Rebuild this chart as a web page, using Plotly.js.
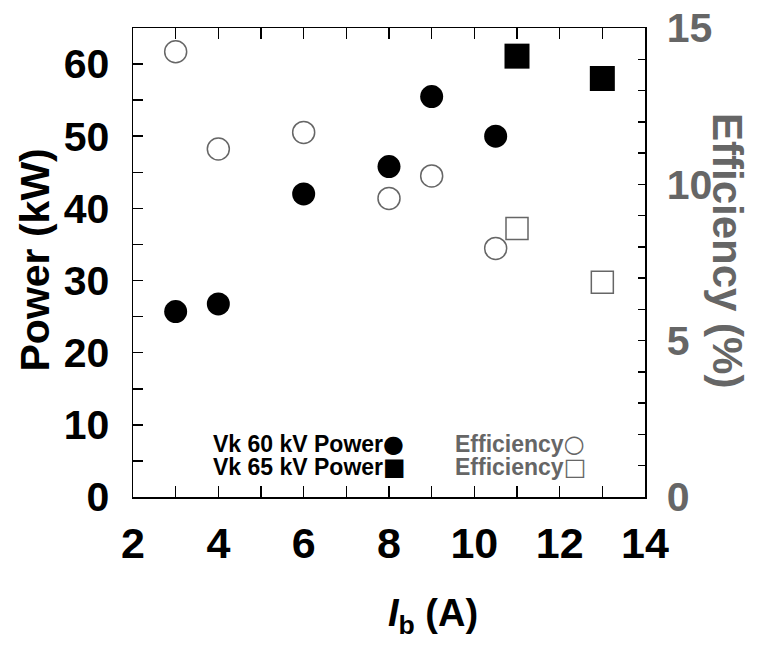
<!DOCTYPE html>
<html>
<head>
<meta charset="utf-8">
<script src="https://cdn.plot.ly/plotly-3.0.1.min.js"></script>
<style>html,body{margin:0;padding:0;background:#fff;}#chart{width:761px;height:645px;}</style>
</head>
<body>
<div id="chart"></div>
<script>
// Data
const current60 = [3, 4, 6, 8, 9, 10.5];
const power60 = [25.7, 26.75, 42.0, 45.8, 55.5, 50.0];
const eff60 = [14.24, 11.13, 11.66, 9.55, 10.27, 7.95];
const current65 = [11, 13];
const power65 = [61.1, 58.0];
const eff65 = [8.59, 6.87];

const legendLabels = ["Vk 60 kV Power", "Vk 65 kV Power", "Efficiency", "Efficiency"];
const legendSymbols = ["\u25CF", "\u25A0", "\u25CB", "\u25A1"];
const xTitle = "<i>I</i><sub>b</sub> (A)";
const yTitle = "Power (kW)";
const y2Title = "Efficiency (%)";

const GRAY = "#666666";
const FONT = "Liberation Sans, Arial, sans-serif";
const SYMFONT = "DejaVu Sans, sans-serif";

const traces = [
  {x: current60, y: eff60, yaxis: "y2", type: "scatter", mode: "markers",
   marker: {symbol: "circle-open", size: 22, color: GRAY, line: {width: 1.5, color: GRAY}}},
  {x: current65, y: eff65, yaxis: "y2", type: "scatter", mode: "markers",
   marker: {symbol: "square-open", size: 22, color: GRAY, line: {width: 1.5, color: GRAY}}},
  {x: current60, y: power60, type: "scatter", mode: "markers",
   marker: {symbol: "circle", size: 23, color: "#000", line: {width: 0}}},
  {x: current65, y: power65, type: "scatter", mode: "markers",
   marker: {symbol: "square", size: 25, color: "#000", line: {width: 0}}}
];

const W = 512, H = 469, L = 133, T = 28;
const px = v => (v - L) / W;
const py = v => (T + H - v) / H;

function legendText(i) {
  return legendLabels[i] + "<span style=\"font-family:" + SYMFONT + ";font-size:24px\">" + legendSymbols[i] + "</span>";
}

const layout = {
  width: 761, height: 645,
  margin: {l: L, r: 761 - L - W, t: T, b: 645 - T - H, pad: 0},
  paper_bgcolor: "#fff", plot_bgcolor: "#fff",
  showlegend: false,
  font: {family: FONT, color: "#000"},
  xaxis: {
    range: [2, 14], dtick: 2, tick0: 2, showgrid: false, zeroline: false,
    showline: true, linecolor: "#000", linewidth: 1.5, mirror: "allticks",
    ticks: "inside", ticklen: 11, tickwidth: 1.5, tickcolor: "#000",
    minor: {dtick: 1, ticks: "inside", ticklen: 6, tickwidth: 1.5, tickcolor: "#000"},
    tickfont: {family: FONT, size: 43, color: "#000", weight: "bold"},
    ticklabelstandoff: 8
  },
  yaxis: {
    range: [0, 65], dtick: 10, showgrid: false, zeroline: false,
    showline: true, linecolor: "#000", linewidth: 1.5,
    ticks: "inside", ticklen: 10, tickwidth: 1.5, tickcolor: "#000",
    minor: {dtick: 5, ticks: "inside", ticklen: 10, tickwidth: 1.5, tickcolor: "#000"},
    tickfont: {family: FONT, size: 41, color: "#000", weight: "bold"},
    ticklabelstandoff: 14
  },
  yaxis2: {
    range: [0, 15], dtick: 5, overlaying: "y", side: "right", showgrid: false, zeroline: false,
    showline: true, linecolor: "#000", linewidth: 1.5,
    ticks: "inside", ticklen: 7, tickwidth: 1.5, tickcolor: "#000",
    minor: {dtick: 1, ticks: "inside", ticklen: 7, tickwidth: 1.5, tickcolor: "#000"},
    tickfont: {family: FONT, size: 41, color: GRAY, weight: "bold"},
    ticklabelstandoff: 12
  },
  annotations: [
    {text: yTitle, xref: "paper", yref: "paper", x: px(34.5), y: py(260), xanchor: "center", yanchor: "middle",
     textangle: -90, showarrow: false, font: {family: FONT, size: 41, color: "#000", weight: "bold"}},
    {text: y2Title, xref: "paper", yref: "paper", x: px(728), y: py(250), xanchor: "center", yanchor: "middle",
     textangle: 90, showarrow: false, font: {family: FONT, size: 42, color: GRAY, weight: "bold"}},
    {text: xTitle, xref: "paper", yref: "paper", x: px(433), y: py(616), xanchor: "center", yanchor: "middle",
     showarrow: false, font: {family: FONT, size: 38, color: "#000", weight: "bold"}},
    {text: legendText(0), xref: "paper", yref: "paper", x: px(211), y: py(444), xanchor: "left", yanchor: "middle",
     showarrow: false, font: {family: FONT, size: 23, color: "#000", weight: "bold"}},
    {text: legendText(1), xref: "paper", yref: "paper", x: px(211), y: py(467), xanchor: "left", yanchor: "middle",
     showarrow: false, font: {family: FONT, size: 23, color: "#000", weight: "bold"}},
    {text: legendText(2), xref: "paper", yref: "paper", x: px(453), y: py(444), xanchor: "left", yanchor: "middle",
     showarrow: false, font: {family: FONT, size: 23, color: GRAY, weight: "bold"}},
    {text: legendText(3), xref: "paper", yref: "paper", x: px(453), y: py(467), xanchor: "left", yanchor: "middle",
     showarrow: false, font: {family: FONT, size: 23, color: GRAY, weight: "bold"}}
  ]
};

Plotly.newPlot("chart", traces, layout, {displayModeBar: false, staticPlot: true});
</script>
</body>
</html>
